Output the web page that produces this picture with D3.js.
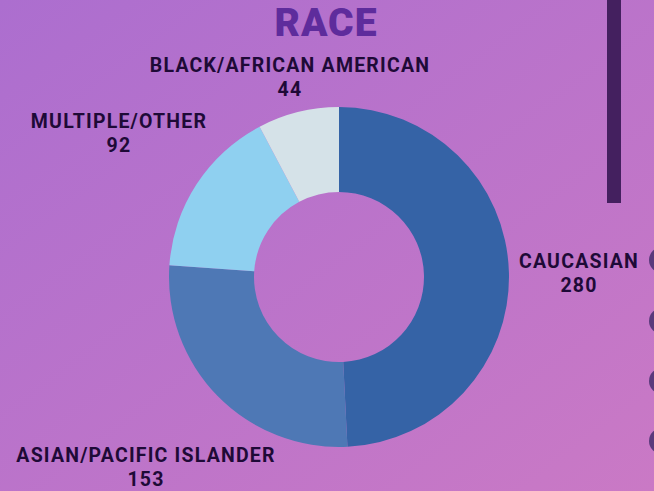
<!DOCTYPE html>
<html>
<head>
<meta charset="utf-8">
<script src="https://cdn.jsdelivr.net/npm/d3@7"></script>
<style>
  html, body { margin: 0; padding: 0; overflow: hidden; }
  svg { display: block; }
  .lbl { font-family: Roboto, "Liberation Sans", sans-serif; font-weight: 700; fill: #1e0a37; letter-spacing: 1.2px; }
</style>
</head>
<body>
<svg id="chart"></svg>
<script>
// data
const categories = ["CAUCASIAN", "ASIAN/PACIFIC ISLANDER", "MULTIPLE/OTHER", "BLACK/AFRICAN AMERICAN"];
const counts = [280, 153, 92, 44];
const sliceColors = ["#3563a6", "#4e78b5", "#8fd0f0", "#d5e2e8"];
const title = "RACE";

// where each label sits (center of text block)
const labelAnchors = {
  "CAUCASIAN": [579, 268],
  "ASIAN/PACIFIC ISLANDER": [146, 462],
  "MULTIPLE/OTHER": [119, 128],
  "BLACK/AFRICAN AMERICAN": [290, 72]
};

const width = 654, height = 491;
const cx = 339, cy = 277;
const outerR = 170, innerR = 85;

const svg = d3.select("#chart")
  .attr("width", width)
  .attr("height", height);

// background gradient
const defs = svg.append("defs");
const grad = defs.append("linearGradient")
  .attr("id", "bg")
  .attr("x1", "0%").attr("y1", "0%")
  .attr("x2", "100%").attr("y2", "100%");
grad.append("stop").attr("offset", "0%").attr("stop-color", "#ac6ecf");
grad.append("stop").attr("offset", "100%").attr("stop-color", "#ca79c5");

svg.append("rect")
  .attr("width", width)
  .attr("height", height)
  .attr("fill", "url(#bg)");

// decorations: vertical bar + circles at the right edge
svg.append("rect")
  .attr("x", 607).attr("y", 0)
  .attr("width", 14).attr("height", 203)
  .attr("fill", "#44205f");

svg.selectAll(".dot")
  .data([260, 321, 381, 441])
  .enter()
  .append("circle")
    .attr("class", "dot")
    .attr("cx", 662)
    .attr("cy", d => d)
    .attr("r", 13)
    .attr("fill", "#5a3a7c");

// title
svg.append("text")
  .attr("x", 326)
  .attr("y", 36)
  .attr("text-anchor", "middle")
  .style("font-family", "Roboto, sans-serif")
  .style("font-weight", 900)
  .style("font-size", "39px")
  .style("letter-spacing", "1px")
  .attr("fill", "#5e2c9c")
  .text(title);

// donut
const pie = d3.pie().sort(null).value(d => d.value);
const arc = d3.arc().innerRadius(innerR).outerRadius(outerR);
const color = d3.scaleOrdinal().domain(categories).range(sliceColors);

const rows = categories.map((c, i) => ({ name: c, value: counts[i] }));

const g = svg.append("g")
  .attr("transform", `translate(${cx}, ${cy})`);

g.selectAll("path")
  .data(pie(rows))
  .enter()
  .append("path")
    .attr("d", arc)
    .attr("fill", d => color(d.data.name));

// labels
const lbl = svg.selectAll(".lblg")
  .data(rows)
  .enter()
  .append("g")
    .attr("transform", d => `translate(${labelAnchors[d.name][0]}, ${labelAnchors[d.name][1]})`);

lbl.append("text")
  .attr("class", "lbl")
  .attr("text-anchor", "middle")
  .style("font-size", "19.5px")
  .text(d => d.name);

lbl.append("text")
  .attr("class", "lbl")
  .attr("text-anchor", "middle")
  .attr("y", 24)
  .style("font-size", "19.5px")
  .text(d => d.value);
</script>
</body>
</html>
